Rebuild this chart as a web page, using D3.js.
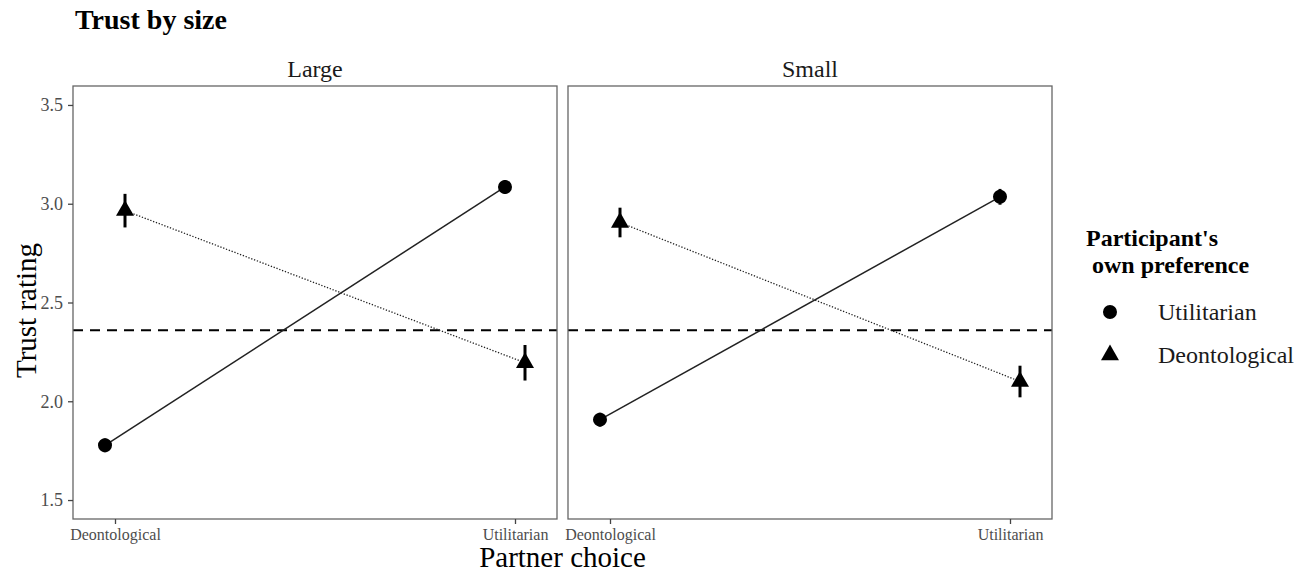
<!DOCTYPE html>
<html>
<head>
<meta charset="utf-8">
<script src="https://cdn.jsdelivr.net/npm/d3@7"></script>
<style>
  body { margin: 0; background: #fff; }
  svg { font-family: "Liberation Serif", "Times New Roman", serif; }
</style>
</head>
<body>
<div id="chart"></div>
<script>
// facet, category and legend labels
const sizes = ["Large", "Small"];
const partners = ["Deontological", "Utilitarian"];
const prefs = ["Utilitarian", "Deontological"];
const yTicks = [1.5, 2.0, 2.5, 3.0, 3.5];
const baseline = 2.36;

// means and error half-widths, per partner choice
const largeUtilitarian = [1.777, 3.085];
const largeUtilitarianErr = [0.035, 0.035];
const largeDeontological = [2.965, 2.195];
const largeDeontologicalErr = [0.085, 0.09];
const smallUtilitarian = [1.907, 3.035];
const smallUtilitarianErr = [0.035, 0.04];
const smallDeontological = [2.905, 2.10];
const smallDeontologicalErr = [0.075, 0.08];

const series = {
  Large: { Utilitarian: [largeUtilitarian, largeUtilitarianErr], Deontological: [largeDeontological, largeDeontologicalErr] },
  Small: { Utilitarian: [smallUtilitarian, smallUtilitarianErr], Deontological: [smallDeontological, smallDeontologicalErr] }
};

const W = 1311, H = 572;
const panelW = 484, panelH = 433, panelTop = 86;
const panelLeft = [73, 568];
const dodge = { Utilitarian: -0.025, Deontological: 0.025 };

const svg = d3.select("#chart").append("svg")
  .attr("width", W).attr("height", H);
svg.append("rect").attr("width", W).attr("height", H).attr("fill", "#fff");

// title
svg.append("text").attr("x", 75).attr("y", 29)
  .attr("font-size", 28).attr("font-weight", "bold").text("Trust by size");

const x = d3.scaleLinear().domain([0.895, 2.105]).range([0, panelW]);
const y = d3.scaleLinear().domain([1.404, 3.596]).range([panelH, 0]);

const symCircle = d3.symbol().type(d3.symbolCircle).size(154);
const symTriangle = d3.symbol().type(d3.symbolTriangle).size(140);
const shapeOf = p => p === "Utilitarian" ? symCircle : symTriangle;

sizes.forEach((s, i) => {
  const g = svg.append("g").attr("transform", `translate(${panelLeft[i]},${panelTop})`);

  // strip label
  g.append("text").attr("x", panelW / 2).attr("y", -9)
    .attr("text-anchor", "middle").attr("font-size", 24).attr("fill", "#1a1a1a").text(s);

  // reference line
  g.append("line").attr("x1", 0).attr("x2", panelW)
    .attr("y1", y(baseline)).attr("y2", y(baseline))
    .attr("stroke", "#000").attr("stroke-width", 2).attr("stroke-dasharray", "10,7");

  prefs.forEach(p => {
    const [vals, errs] = series[s][p];
    const pts = vals.map((v, k) => ({ x: x(k + 1 + dodge[p]), v, e: errs[k] }));
    g.append("path")
      .attr("d", d3.line().x(d => d.x).y(d => y(d.v))(pts))
      .attr("fill", "none").attr("stroke", "#222")
      .attr("stroke-width", p === "Utilitarian" ? 1.5 : 1.3)
      .attr("stroke-dasharray", p === "Utilitarian" ? null : "1.3,1.7");
    g.selectAll(null).data(pts).enter().append("line")
      .attr("x1", d => d.x).attr("x2", d => d.x)
      .attr("y1", d => y(d.v - d.e)).attr("y2", d => y(d.v + d.e))
      .attr("stroke", "#000").attr("stroke-width", 3);
    g.selectAll(null).data(pts).enter().append("path")
      .attr("transform", d => `translate(${d.x},${y(d.v)})`)
      .attr("d", shapeOf(p)()).attr("fill", "#000");
  });

  // panel border
  g.append("rect").attr("width", panelW).attr("height", panelH)
    .attr("fill", "none").attr("stroke", "#666").attr("stroke-width", 1.3);

  // x axis
  const xa = g.append("g").attr("transform", `translate(0,${panelH})`)
    .call(d3.axisBottom(x).tickValues([1, 2]).tickFormat(d => partners[d - 1]).tickSize(5).tickPadding(5));
  xa.select(".domain").remove();
  xa.selectAll("line").attr("stroke", "#444").attr("stroke-width", 1.3);
  xa.selectAll("text").attr("font-size", 16).attr("fill", "#4d4d4d")
    .attr("font-family", "Liberation Serif, serif");

  if (i === 0) {
    const ya = g.append("g")
      .call(d3.axisLeft(y).tickValues(yTicks).tickFormat(d3.format(".1f")).tickSize(5).tickPadding(5));
    ya.select(".domain").remove();
    ya.selectAll("line").attr("stroke", "#444").attr("stroke-width", 1.3);
    ya.selectAll("text").attr("font-size", 18).attr("fill", "#4d4d4d")
      .attr("font-family", "Liberation Serif, serif");
  }
});

// axis titles
svg.append("text").attr("x", (panelLeft[0] + panelLeft[1] + panelW) / 2).attr("y", 567)
  .attr("text-anchor", "middle").attr("font-size", 29).text("Partner choice");
svg.append("text").attr("transform", `translate(36,${panelTop + panelH / 2 + 8}) rotate(-90)`)
  .attr("text-anchor", "middle").attr("font-size", 29).text("Trust rating");

// legend
const lg = svg.append("g").attr("transform", "translate(1086,0)");
lg.append("text").attr("x", 0).attr("y", 246).attr("font-size", 24).attr("font-weight", "bold").text("Participant's");
lg.append("text").attr("x", 0).attr("y", 273).attr("font-size", 24).attr("font-weight", "bold").text("\u00a0own preference");
prefs.forEach((p, k) => {
  const cy = 312 + k * 43;
  lg.append("path").attr("transform", `translate(24,${cy})`).attr("d", shapeOf(p)()).attr("fill", "#000");
  lg.append("text").attr("x", 72).attr("y", cy + 8).attr("font-size", 24).attr("fill", "#1a1a1a").text(p);
});
</script>
</body>
</html>
